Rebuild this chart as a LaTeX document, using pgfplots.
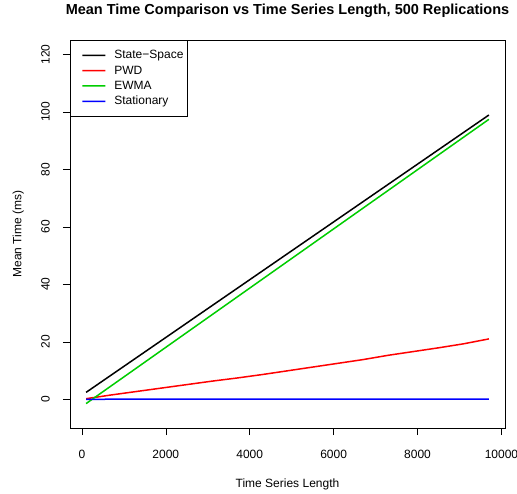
\documentclass[border=0pt]{standalone}
\usepackage{pgfplots}
\pgfplotsset{compat=1.18}
\usetikzlibrary{calc}
\usepackage{fontspec}
\setmainfont{Liberation Sans}
\definecolor{rblack}{RGB}{0,0,0}
\definecolor{rred}{RGB}{255,0,0}
\definecolor{rgreen}{RGB}{0,205,0}
\definecolor{rblue}{RGB}{0,0,255}
\begin{document}
\begin{tikzpicture}[x=1pt,y=1pt]
\begin{axis}[
    name=ax,
    scale only axis,
    width=435pt, height=388pt,
    xmin=-284, xmax=10084,
    ymin=-10, ymax=125,
    xtick={0,2000,4000,6000,8000,10000},
    ytick={0,20,40,60,80,100,120},
    scaled ticks=false,
    /pgf/number format/set thousands separator={},
    /pgf/number format/assume math mode=true,
    tick align=outside,
    major tick length=7pt,
    xtick pos=bottom, ytick pos=left,
    tick style={black, line width=0.5pt},
    axis line style={line width=0.8pt},
    tick label style={font=\fontsize{12}{13}\selectfont},
    yticklabel style={rotate=90, anchor=south, inner ysep=13pt},
    xticklabel style={yshift=-12pt},
    xlabel={Time Series Length},
    ylabel={Mean Time (ms)},
    label style={font=\fontsize{12}{13}\selectfont},
    xlabel style={yshift=-13pt},
    ylabel style={yshift=1pt},
    title={\textbf{Mean Time Comparison vs Time Series Length, 500 Replications}},
    title style={font=\fontsize{14.5}{16}\selectfont, yshift=13pt},
    legend style={at={(0,1)}, anchor=north west, draw=black, line width=0.8pt,
        font=\fontsize{12}{13}\selectfont, inner xsep=2pt, inner ysep=8pt,
        row sep=1.5pt},
    legend cell align=left,
    legend image code/.code={%
        \path[draw=none, fill=none] (0pt,0pt) -- (40pt,0pt);
        \draw[#1, line width=1.5pt] (10pt,0pt) -- (33pt,0.05pt);},
    clip=true,
]
\addplot[rblack, line width=1.5pt] coordinates {(100,2.4) (9700,98.9)};
\addlegendentry{State−Space}
\addplot[rred, line width=1.5pt] coordinates {
(100,0.2) (700,1.5) (1300,2.7) (1900,3.9) (2500,5.1) (3100,6.3) (3700,7.4)
(4300,8.6) (4900,9.9) (5500,11.2) (6100,12.5) (6700,13.8) (7300,15.3)
(7900,16.6) (8500,17.9) (9100,19.3) (9700,21.0)};
\addlegendentry{PWD}
\addplot[rgreen, line width=1.5pt] coordinates {(100,-1.5) (9700,97.4)};
\addlegendentry{EWMA}
\addplot[rblue, line width=1.5pt] coordinates {(100,0) (9700,0.08)};
\addlegendentry{Stationary}
\end{axis}
\pgfresetboundingbox
\path (ax.south west) ++(-70pt,-65pt) rectangle ($(ax.north east)+(12pt,40pt)$);
\end{tikzpicture}
\end{document}
